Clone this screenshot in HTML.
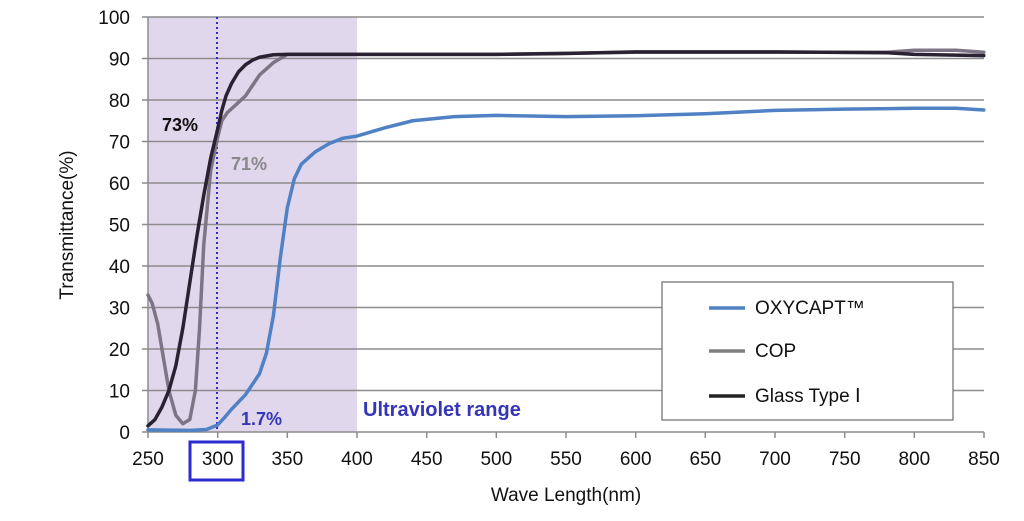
<!DOCTYPE html>
<html><head><meta charset="utf-8"><style>
body{margin:0;background:#fff;}
svg{display:block;font-family:"Liberation Sans",Arial,sans-serif;}
</style></head><body>
<svg width="1024" height="521" viewBox="0 0 1024 521">
<rect width="1024" height="521" fill="#fff"/>
<rect x="148" y="17" width="209" height="415" fill="#e1d7ec"/>
<g stroke="#8c8c8c" stroke-width="1.5">
<line x1="142" y1="17" x2="984" y2="17"/>
<line x1="142" y1="58.5" x2="984" y2="58.5"/>
<line x1="142" y1="100" x2="984" y2="100"/>
<line x1="142" y1="141.5" x2="984" y2="141.5"/>
<line x1="142" y1="183" x2="984" y2="183"/>
<line x1="142" y1="224.5" x2="984" y2="224.5"/>
<line x1="142" y1="266" x2="984" y2="266"/>
<line x1="142" y1="307.5" x2="984" y2="307.5"/>
<line x1="142" y1="349" x2="984" y2="349"/>
<line x1="142" y1="390.5" x2="984" y2="390.5"/>
<line x1="142" y1="432" x2="984" y2="432"/>
<line x1="148" y1="17" x2="148" y2="438"/>
<line x1="217.7" y1="432" x2="217.7" y2="438"/>
<line x1="287.3" y1="432" x2="287.3" y2="438"/>
<line x1="357" y1="432" x2="357" y2="438"/>
<line x1="426.7" y1="432" x2="426.7" y2="438"/>
<line x1="496.3" y1="432" x2="496.3" y2="438"/>
<line x1="566" y1="432" x2="566" y2="438"/>
<line x1="635.7" y1="432" x2="635.7" y2="438"/>
<line x1="705.3" y1="432" x2="705.3" y2="438"/>
<line x1="775" y1="432" x2="775" y2="438"/>
<line x1="844.7" y1="432" x2="844.7" y2="438"/>
<line x1="914.3" y1="432" x2="914.3" y2="438"/>
<line x1="984" y1="432" x2="984" y2="438"/>
</g>
<line x1="217" y1="17" x2="217" y2="432" stroke="#2b2bd0" stroke-width="2" stroke-dasharray="2,3"/>
<g transform="matrix(1.393,0,0,-4.15,-200.25,432)" fill="none" stroke-linejoin="round" stroke-linecap="round">
<polyline vector-effect="non-scaling-stroke" stroke="#7d7585" stroke-width="3.5" points="250,33 253,31 257,26 260,20 265,10 270,4 275,2 280,3 284,10 287,25 290,45 295,63 300,71 303,75 307,77 312,78.5 320,81 330,86 340,89 350,91 400,91 500,91 600,91.5 700,91.5 780,91.5 800,92 830,92 850,91.5"/>
<polyline vector-effect="non-scaling-stroke" stroke="#2a2232" stroke-width="3.5" points="250,1.5 255,3 260,6 265,10 270,16 275,25 280,36 285,47 290,57 295,66 300,73 303,77.5 306,81 310,84 315,86.8 320,88.5 325,89.6 330,90.3 340,90.9 350,91 400,91 500,91 550,91.2 600,91.6 700,91.6 780,91.4 800,91 850,90.7"/>
<polyline vector-effect="non-scaling-stroke" stroke="#4f81c4" stroke-width="3.5" points="250,0.5 280,0.4 292,0.6 300,1.7 305,3.5 310,5.5 320,9 330,14 335,19 340,28 345,42 350,54 355,61 360,64.5 370,67.5 380,69.5 390,70.8 400,71.3 420,73.3 440,75 470,76 500,76.3 550,76 600,76.2 650,76.7 700,77.5 750,77.8 800,78 830,78 850,77.6"/>
</g>
<g font-size="19" fill="#111" text-anchor="end">
<text x="130" y="24">100</text><text x="130" y="65.5">90</text><text x="130" y="107">80</text>
<text x="130" y="148.5">70</text><text x="130" y="190">60</text><text x="130" y="231.5">50</text>
<text x="130" y="273">40</text><text x="130" y="314.5">30</text><text x="130" y="356">20</text>
<text x="130" y="397.5">10</text><text x="130" y="439">0</text>
</g>
<g font-size="19" fill="#111" text-anchor="middle">
<text x="148" y="465">250</text><text x="217.7" y="465">300</text><text x="287.3" y="465">350</text>
<text x="357" y="465">400</text><text x="426.7" y="465">450</text><text x="496.3" y="465">500</text>
<text x="566" y="465">550</text><text x="635.7" y="465">600</text><text x="705.3" y="465">650</text>
<text x="775" y="465">700</text><text x="844.7" y="465">750</text><text x="914.3" y="465">800</text>
<text x="984" y="465">850</text>
<text x="566" y="501">Wave Length(nm)</text>
<text transform="translate(73,225) rotate(-90)">Transmittance(%)</text>
</g>
<rect x="190" y="442" width="53" height="38" fill="none" stroke="#2b2bd0" stroke-width="3"/>
<text x="162" y="131" font-size="18" font-weight="bold" fill="#111">73%</text>
<text x="231" y="170" font-size="18" font-weight="bold" fill="#888">71%</text>
<text x="241" y="425" font-size="18" font-weight="bold" fill="#3535b8">1.7%</text>
<text x="363" y="416" font-size="20" font-weight="bold" fill="#3535b8">Ultraviolet range</text>
<rect x="662" y="282" width="291" height="138" fill="#fff" stroke="#777" stroke-width="1.3"/>
<line x1="709" y1="308" x2="745" y2="308" stroke="#4f81c4" stroke-width="3.5"/>
<line x1="709" y1="351" x2="745" y2="351" stroke="#808080" stroke-width="3.5"/>
<line x1="709" y1="396" x2="745" y2="396" stroke="#222" stroke-width="3.5"/>
<g font-size="19" fill="#111">
<text x="755" y="314">OXYCAPT™</text>
<text x="755" y="357">COP</text>
<text x="755" y="402">Glass Type Ⅰ</text>
</g>
</svg>
</body></html>
